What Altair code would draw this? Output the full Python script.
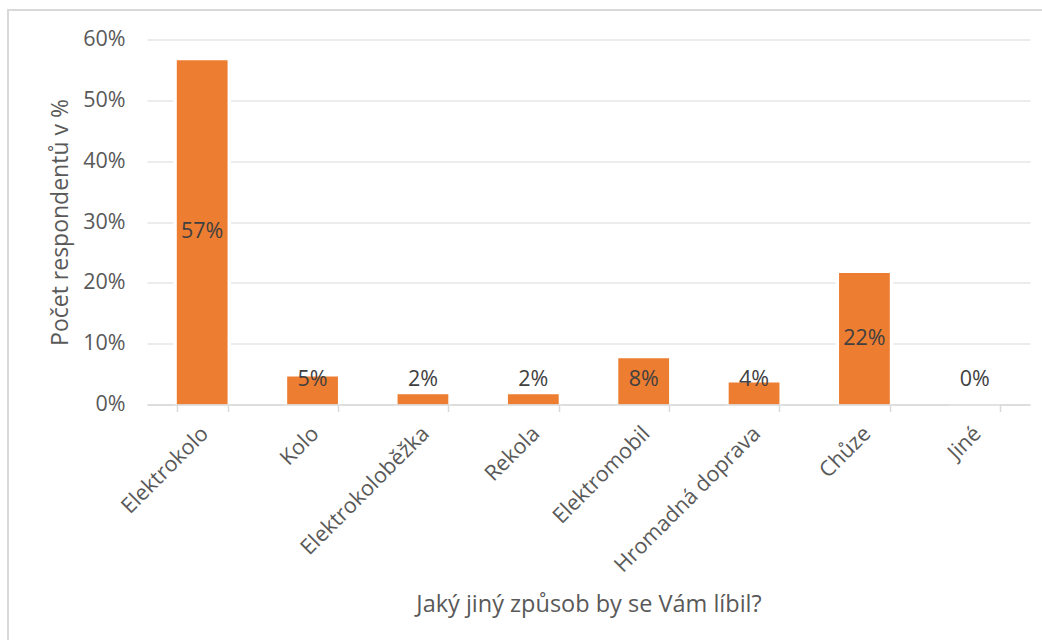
import altair as alt
import pandas as pd

categories = ["Elektrokolo", "Kolo", "Elektrokoloběžka", "Rekola", "Elektromobil",
              "Hromadná doprava", "Chůze", "Jiné"]
values = [56.6, 4.6, 1.7, 1.7, 7.6, 3.6, 21.6, 0.0]
y_ticks = [0, 10, 20, 30, 40, 50, 60]

df = pd.DataFrame({
    "cat": categories,
    "val": values,
    "labpos": [max(v / 2, 3.95) for v in values],
    "lab": [f"{round(v)}%" for v in values],
})

FONT = "Open Sans"
W, H = 883, 365
LFS = 21.5
TFS = 23.5

xenc = alt.X("cat:N", sort=categories,
             scale=alt.Scale(paddingInner=0.54, paddingOuter=0.27),
             axis=alt.Axis(title="Jaký jiný způsob by se Vám líbil?",
                           labelAngle=-45, labelFontSize=LFS, labelColor="#595959",
                           labelFont=FONT, labelPadding=11, labelOffset=-5, labelLimit=0,
                           tickBand="extent", tickColor="#d9d9d9", tickSize=7, tickWidth=1.5,
                           domainColor="#d9d9d9", domainWidth=1.5,
                           titleFontSize=TFS, titleFont=FONT, titleColor="#595959",
                           titleFontWeight="normal", titleX=W / 2, titleY=200,
                           titleBaseline="middle", titleAlign="center",
                           grid=False, zindex=1))
yscale = alt.Scale(domain=[0, 60], nice=False)
yaxis = alt.Axis(title="Počet respondentů v %", values=y_ticks,
                 labelExpr="datum.value + '%'", labelFontSize=LFS, labelColor="#595959",
                 labelFont=FONT, labelPadding=22, ticks=False, domain=False,
                 gridColor="#d9d9d9", gridWidth=1.2,
                 titleFontSize=23, titleFont=FONT, titleColor="#595959",
                 titleFontWeight="normal", titleAngle=-90, titleX=-87, titleY=H / 2,
                 titleBaseline="middle", titleAlign="center")

border = alt.Chart(df).mark_rect(fill=None, stroke="#d9d9d9", strokeWidth=1.5, clip=False).encode(
    x=alt.value(-139), x2=alt.value(W + 60), y=alt.value(-29.5), y2=alt.value(H + 300)
)

halo = alt.Chart(df).mark_bar(color="white", stroke="white", strokeWidth=7).encode(
    x=xenc, y=alt.Y("val:Q", scale=yscale, axis=yaxis)
)
bars = alt.Chart(df).mark_bar(color="#ED7D31").encode(
    x=alt.X("cat:N", sort=categories),
    y=alt.Y("val:Q", scale=yscale)
)
labels = alt.Chart(df).mark_text(fontSize=LFS, font=FONT, color="#404040", baseline="middle").encode(
    x=alt.X("cat:N", sort=categories),
    y=alt.Y("labpos:Q", scale=yscale),
    text="lab:N"
)

chart = alt.layer(halo, bars, labels, border).properties(
    width=W, height=H,
    autosize=alt.AutoSizeParams(type="none"),
    padding={"left": 147, "top": 39.5, "right": 12, "bottom": 235.5},
    background="white"
).configure_view(stroke=None)

chart.save("out.html", embed_options={"renderer": "svg", "actions": False})
